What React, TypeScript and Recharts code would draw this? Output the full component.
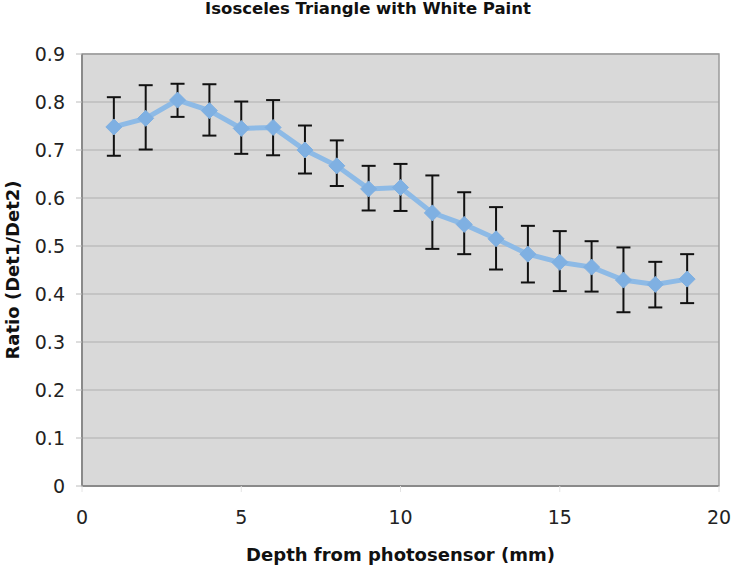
import React from 'react';
import {
  LineChart,
  Line,
  XAxis,
  YAxis,
  CartesianGrid,
  ErrorBar,
  ReferenceArea
} from 'recharts';

const depth = [1, 2, 3, 4, 5, 6, 7, 8, 9, 10, 11, 12, 13, 14, 15, 16, 17, 18, 19];
const ratio = [0.748, 0.766, 0.804, 0.782, 0.745, 0.747, 0.700, 0.667, 0.619, 0.622, 0.569, 0.545, 0.515, 0.483, 0.466, 0.456, 0.429, 0.420, 0.431];
const upper = [0.810, 0.835, 0.838, 0.837, 0.801, 0.804, 0.751, 0.720, 0.667, 0.671, 0.647, 0.612, 0.581, 0.542, 0.531, 0.510, 0.497, 0.467, 0.483];
const lower = [0.688, 0.701, 0.769, 0.730, 0.692, 0.689, 0.651, 0.625, 0.574, 0.573, 0.494, 0.483, 0.451, 0.424, 0.406, 0.405, 0.362, 0.372, 0.381];

const xTicks = [0, 5, 10, 15, 20];
const yTicks = [0, 0.1, 0.2, 0.3, 0.4, 0.5, 0.6, 0.7, 0.8, 0.9];

const data = depth.map((d, i) => ({
  depth: d,
  ratio: ratio[i],
  err: [ratio[i] - lower[i], upper[i] - ratio[i]],
}));

const Diamond = (props: any) => {
  const { cx, cy } = props;
  if (cx == null || cy == null) return null;
  const s = 8;
  return (
    <polygon
      points={`${cx},${cy - s} ${cx + s},${cy} ${cx},${cy + s} ${cx - s},${cy}`}
      fill="#7fb0e2"
      stroke="#7fb0e2"
    />
  );
};

const font = 'Verdana, "DejaVu Sans", sans-serif';

export default function App() {
  return (
    <div style={{ position: 'absolute', left: 0, top: 0, width: 736, height: 567, background: '#fff' }}>
      <div
        style={{
          position: 'absolute',
          top: -1,
          left: 0,
          width: 736,
          textAlign: 'center',
          fontFamily: font,
          fontWeight: 'bold',
          fontSize: 16.5,
          color: '#111',
        }}
      >
        Isosceles Triangle with White Paint
      </div>
      <LineChart
        width={736}
        height={567}
        data={data}
        margin={{ top: 54, right: 17, bottom: 0, left: 0 }}
      >
        <CartesianGrid vertical={false} fill="#d9d9d9" stroke="#bcbcbc" strokeWidth={1.5} />
        <ReferenceArea x1={0} x2={20} y1={0} y2={0.9} fill="none" fillOpacity={0} stroke="#9a9a9a" strokeWidth={1.5} ifOverflow="visible" />
        <XAxis
          dataKey="depth"
          type="number"
          domain={[0, 20]}
          ticks={xTicks}
          height={81}
          axisLine={{ stroke: '#8a8a8a', strokeWidth: 2 }}
          tickLine={{ stroke: '#e4e4e4' }}
          tickSize={6}
          tickMargin={19}
          tick={{ fontSize: 19, fill: '#222', fontFamily: font }}
          label={{ value: 'Depth from photosensor (mm)', position: 'center', dy: 28, style: { fontSize: 18, fontWeight: 'bold', fill: '#111', fontFamily: font } }}
        />
        <YAxis
          type="number"
          domain={[0, 0.9]}
          ticks={yTicks}
          width={82}
          axisLine={{ stroke: '#8a8a8a', strokeWidth: 2 }}
          tickLine={{ stroke: '#bcbcbc' }}
          tickSize={6}
          tickMargin={11}
          tick={{ fontSize: 19, fill: '#222', fontFamily: font }}
          label={{ value: 'Ratio (Det1/Det2)', angle: -90, position: 'center', dx: -28, style: { fontSize: 18, fontWeight: 'bold', fill: '#111', fontFamily: font, textAnchor: 'middle' } }}
        />
        <Line
          type="linear"
          dataKey="ratio"
          stroke="#8dbae6"
          strokeWidth={5}
          dot={<Diamond />}
          activeDot={false}
          isAnimationActive={false}
        >
          <ErrorBar dataKey="err" width={7} stroke="#111" strokeWidth={2} direction="y" />
        </Line>
      </LineChart>
    </div>
  );
}
